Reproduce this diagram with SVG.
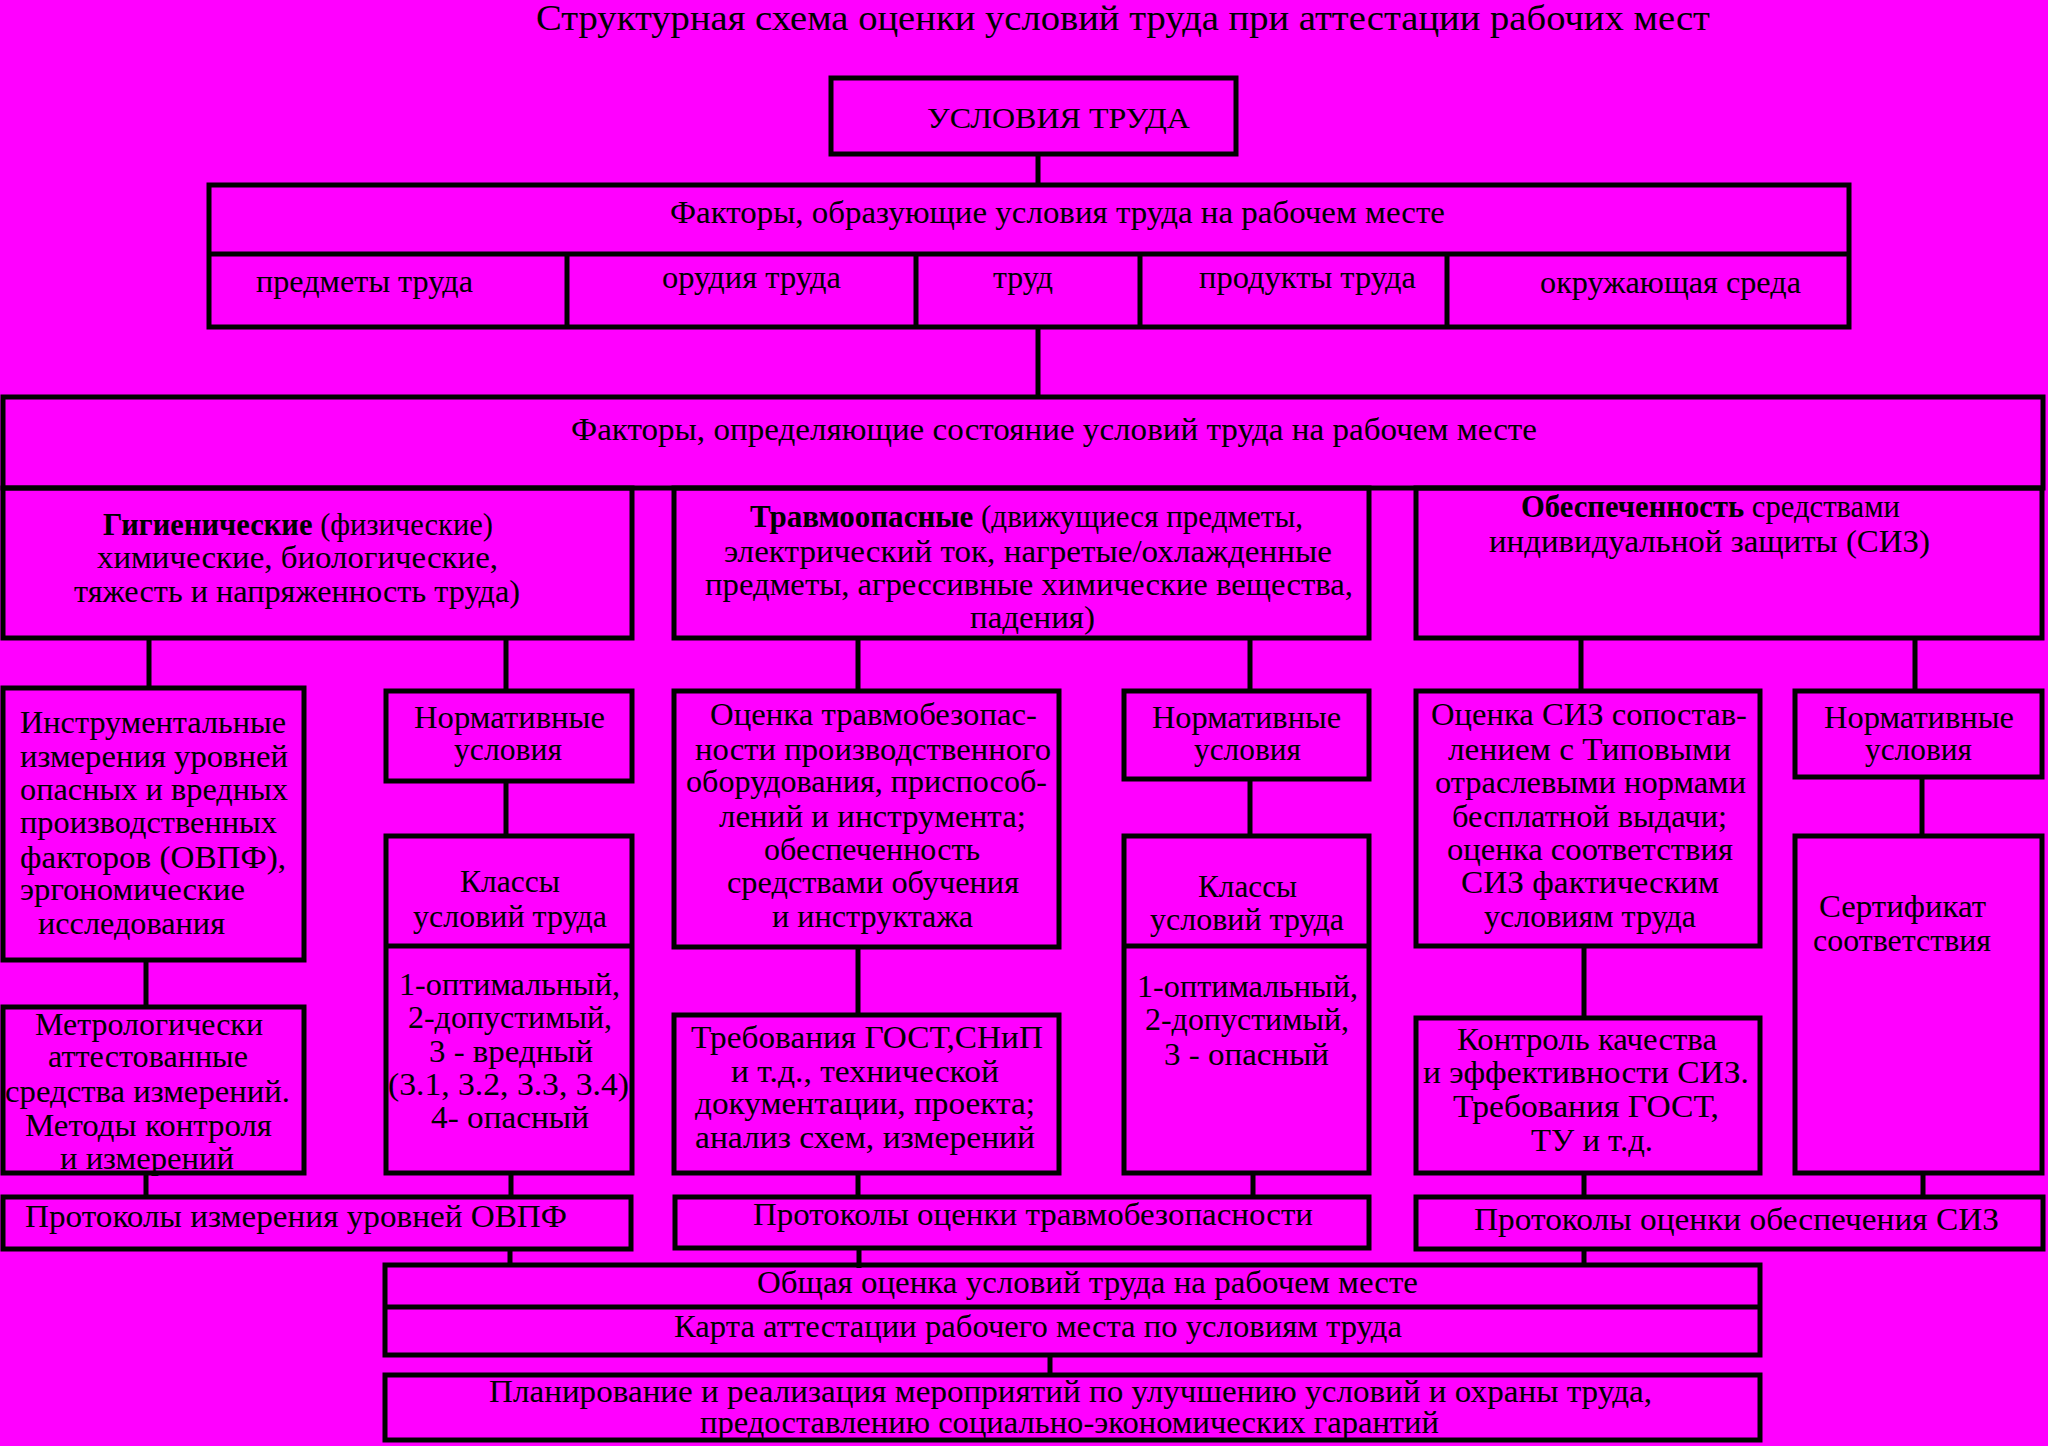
<svg xmlns="http://www.w3.org/2000/svg" width="2048" height="1446" viewBox="0 0 2048 1446">
<style>
.b{fill:none;stroke:#000;stroke-width:5}
.c{stroke:#000;stroke-width:5;fill:none}
text{font-family:"Liberation Serif","Times New Roman",serif;font-size:31px;fill:#000}
.bd{font-weight:bold}
</style>
<rect x="0" y="0" width="2048" height="1446" fill="#FF00FF"/>
<text id="title" x="536" y="30" style="font-size:36px" textLength="1174" lengthAdjust="spacingAndGlyphs">Структурная схема оценки условий труда при аттестации рабочих мест</text>

<g id="connectors">
<path class="c" d="M1038 154V185"/>
<path class="c" d="M1038 327V397"/>
<path class="c" d="M149 640V688M506 640V691"/>
<path class="c" d="M858 640V691M1250 640V691"/>
<path class="c" d="M1581 640V691M1915 640V691"/>
<path class="c" d="M146 960V1007"/>
<path class="c" d="M506 781V836"/>
<path class="c" d="M858 947V1015"/>
<path class="c" d="M1250 779V836"/>
<path class="c" d="M1584 946V1018"/>
<path class="c" d="M1922 777V836"/>
<path class="c" d="M146 1173V1197M511 1173V1197"/>
<path class="c" d="M858 1173V1197M1253 1173V1197"/>
<path class="c" d="M1584 1173V1197M1923 1173V1197"/>
<path class="c" d="M510 1249V1265M859 1248V1268M1584 1249V1265"/>
<path class="c" d="M1050 1355V1375"/>
</g>

<g id="n-usloviya">
<rect class="b" x="831" y="78" width="405" height="76"/>
<text x="927" y="128" style="font-size:30px" textLength="263" lengthAdjust="spacingAndGlyphs">УСЛОВИЯ ТРУДА</text>
</g>

<g id="n-factors-form">
<rect class="b" x="209" y="185" width="1640" height="142"/>
<path class="c" d="M209 254H1849M567 254V327M916 254V327M1140 254V327M1447 254V327"/>
<text x="670" y="223" textLength="775" lengthAdjust="spacingAndGlyphs">Факторы, образующие условия труда на рабочем месте</text>
<text x="256" y="292" textLength="217" lengthAdjust="spacingAndGlyphs">предметы труда</text>
<text x="662" y="288" textLength="179" lengthAdjust="spacingAndGlyphs">орудия труда</text>
<text x="993" y="288" textLength="60" lengthAdjust="spacingAndGlyphs">труд</text>
<text x="1199" y="288" textLength="217" lengthAdjust="spacingAndGlyphs">продукты труда</text>
<text x="1540" y="293" textLength="261" lengthAdjust="spacingAndGlyphs">окружающая среда</text>
</g>

<g id="n-factors-state">
<rect class="b" x="3" y="397" width="2040" height="91"/>
<text x="571" y="440" textLength="966" lengthAdjust="spacingAndGlyphs">Факторы, определяющие состояние условий труда на рабочем месте</text>
</g>

<g id="n-gig">
<rect class="b" x="3" y="488" width="629" height="150"/>
<text x="103" y="535" textLength="390" lengthAdjust="spacingAndGlyphs"><tspan class="bd">Гигиенические</tspan> (физические)</text>
<text x="97" y="568" textLength="401" lengthAdjust="spacingAndGlyphs">химические, биологические,</text>
<text x="74" y="602" textLength="446" lengthAdjust="spacingAndGlyphs">тяжесть и напряженность труда)</text>
</g>

<g id="n-trav">
<rect class="b" x="674" y="488" width="695" height="150"/>
<text x="750" y="527" textLength="553" lengthAdjust="spacingAndGlyphs"><tspan class="bd">Травмоопасные</tspan> (движущиеся предметы,</text>
<text x="724" y="562" textLength="608" lengthAdjust="spacingAndGlyphs">электрический ток, нагретые/охлажденные</text>
<text x="705" y="595" textLength="648" lengthAdjust="spacingAndGlyphs">предметы, агрессивные химические вещества,</text>
<text x="970" y="628" textLength="125" lengthAdjust="spacingAndGlyphs">падения)</text>
</g>

<g id="n-obesp">
<rect class="b" x="1416" y="488" width="626" height="150"/>
<text x="1521" y="517" textLength="379" lengthAdjust="spacingAndGlyphs"><tspan class="bd">Обеспеченность</tspan> средствами</text>
<text x="1489" y="552" textLength="441" lengthAdjust="spacingAndGlyphs">индивидуальной защиты (СИЗ)</text>
</g>

<g id="n-instr">
<rect class="b" x="3" y="688" width="301" height="272"/>
<text x="20" y="733" textLength="266" lengthAdjust="spacingAndGlyphs">Инструментальные</text>
<text x="20" y="767" textLength="268" lengthAdjust="spacingAndGlyphs">измерения уровней</text>
<text x="20" y="800" textLength="268" lengthAdjust="spacingAndGlyphs">опасных и вредных</text>
<text x="20" y="833" textLength="257" lengthAdjust="spacingAndGlyphs">производственных</text>
<text x="20" y="868" textLength="266" lengthAdjust="spacingAndGlyphs">факторов (ОВПФ),</text>
<text x="20" y="900" textLength="225" lengthAdjust="spacingAndGlyphs">эргономические</text>
<text x="38" y="934" textLength="187" lengthAdjust="spacingAndGlyphs">исследования</text>
</g>

<g id="n-metrol">
<rect class="b" x="3" y="1007" width="301" height="166"/>
<text x="35" y="1035" textLength="228" lengthAdjust="spacingAndGlyphs">Метрологически</text>
<text x="48" y="1067" textLength="200" lengthAdjust="spacingAndGlyphs">аттестованные</text>
<text x="5" y="1102" textLength="285" lengthAdjust="spacingAndGlyphs">средства измерений.</text>
<text x="25" y="1136" textLength="247" lengthAdjust="spacingAndGlyphs">Методы контроля</text>
<text x="60" y="1169" textLength="174" lengthAdjust="spacingAndGlyphs">и измерений</text>
</g>

<g id="n-norm1">
<rect class="b" x="386" y="691" width="246" height="90"/>
<text x="414" y="728" textLength="191" lengthAdjust="spacingAndGlyphs">Нормативные</text>
<text x="454" y="760" textLength="108" lengthAdjust="spacingAndGlyphs">условия</text>
</g>

<g id="n-class1">
<rect class="b" x="386" y="836" width="246" height="337"/>
<path class="c" d="M386 946H632"/>
<text x="460" y="892" textLength="100" lengthAdjust="spacingAndGlyphs">Классы</text>
<text x="413" y="927" textLength="194" lengthAdjust="spacingAndGlyphs">условий труда</text>
<text x="399" y="995" textLength="221" lengthAdjust="spacingAndGlyphs">1-оптимальный,</text>
<text x="408" y="1028" textLength="204" lengthAdjust="spacingAndGlyphs">2-допустимый,</text>
<text x="429" y="1062" textLength="164" lengthAdjust="spacingAndGlyphs">3 - вредный</text>
<text x="388" y="1095" textLength="241" lengthAdjust="spacingAndGlyphs">(3.1, 3.2, 3.3, 3.4)</text>
<text x="431" y="1128" textLength="158" lengthAdjust="spacingAndGlyphs">4- опасный</text>
</g>

<g id="n-travocenka">
<rect class="b" x="674" y="691" width="385" height="256"/>
<text x="710" y="725" textLength="327" lengthAdjust="spacingAndGlyphs">Оценка травмобезопас-</text>
<text x="695" y="760" textLength="356" lengthAdjust="spacingAndGlyphs">ности производственного</text>
<text x="686" y="792" textLength="361" lengthAdjust="spacingAndGlyphs">оборудования, приспособ-</text>
<text x="719" y="827" textLength="307" lengthAdjust="spacingAndGlyphs">лений и инструмента;</text>
<text x="764" y="860" textLength="216" lengthAdjust="spacingAndGlyphs">обеспеченность</text>
<text x="727" y="893" textLength="292" lengthAdjust="spacingAndGlyphs">средствами обучения</text>
<text x="772" y="927" textLength="201" lengthAdjust="spacingAndGlyphs">и инструктажа</text>
</g>

<g id="n-treb">
<rect class="b" x="674" y="1015" width="385" height="158"/>
<text x="691" y="1048" textLength="352" lengthAdjust="spacingAndGlyphs">Требования ГОСТ,СНиП</text>
<text x="731" y="1082" textLength="268" lengthAdjust="spacingAndGlyphs">и т.д., технической</text>
<text x="695" y="1114" textLength="340" lengthAdjust="spacingAndGlyphs">документации, проекта;</text>
<text x="695" y="1148" textLength="340" lengthAdjust="spacingAndGlyphs">анализ схем, измерений</text>
</g>

<g id="n-norm2">
<rect class="b" x="1124" y="691" width="245" height="88"/>
<text x="1152" y="728" textLength="189" lengthAdjust="spacingAndGlyphs">Нормативные</text>
<text x="1194" y="760" textLength="107" lengthAdjust="spacingAndGlyphs">условия</text>
</g>

<g id="n-class2">
<rect class="b" x="1124" y="836" width="245" height="337"/>
<path class="c" d="M1124 946H1369"/>
<text x="1198" y="897" textLength="99" lengthAdjust="spacingAndGlyphs">Классы</text>
<text x="1150" y="930" textLength="194" lengthAdjust="spacingAndGlyphs">условий труда</text>
<text x="1137" y="997" textLength="221" lengthAdjust="spacingAndGlyphs">1-оптимальный,</text>
<text x="1145" y="1030" textLength="204" lengthAdjust="spacingAndGlyphs">2-допустимый,</text>
<text x="1164" y="1065" textLength="165" lengthAdjust="spacingAndGlyphs">3 - опасный</text>
</g>

<g id="n-sizocenka">
<rect class="b" x="1416" y="691" width="344" height="255"/>
<text x="1431" y="725" textLength="316" lengthAdjust="spacingAndGlyphs">Оценка СИЗ сопостав-</text>
<text x="1448" y="760" textLength="283" lengthAdjust="spacingAndGlyphs">лением с Типовыми</text>
<text x="1435" y="793" textLength="311" lengthAdjust="spacingAndGlyphs">отраслевыми нормами</text>
<text x="1452" y="827" textLength="275" lengthAdjust="spacingAndGlyphs">бесплатной выдачи;</text>
<text x="1447" y="860" textLength="286" lengthAdjust="spacingAndGlyphs">оценка соответствия</text>
<text x="1461" y="893" textLength="258" lengthAdjust="spacingAndGlyphs">СИЗ фактическим</text>
<text x="1484" y="927" textLength="212" lengthAdjust="spacingAndGlyphs">условиям труда</text>
</g>

<g id="n-kontrol">
<rect class="b" x="1416" y="1018" width="344" height="155"/>
<text x="1457" y="1050" textLength="260" lengthAdjust="spacingAndGlyphs">Контроль качества</text>
<text x="1423" y="1083" textLength="326" lengthAdjust="spacingAndGlyphs">и эффективности СИЗ.</text>
<text x="1453" y="1117" textLength="266" lengthAdjust="spacingAndGlyphs">Требования ГОСТ,</text>
<text x="1531" y="1151" textLength="122" lengthAdjust="spacingAndGlyphs">ТУ и т.д.</text>
</g>

<g id="n-norm3">
<rect class="b" x="1795" y="691" width="247" height="86"/>
<text x="1824" y="728" textLength="190" lengthAdjust="spacingAndGlyphs">Нормативные</text>
<text x="1865" y="760" textLength="107" lengthAdjust="spacingAndGlyphs">условия</text>
</g>

<g id="n-sert">
<rect class="b" x="1795" y="836" width="247" height="337"/>
<text x="1819" y="917" textLength="167" lengthAdjust="spacingAndGlyphs">Сертификат</text>
<text x="1813" y="951" textLength="178" lengthAdjust="spacingAndGlyphs">соответствия</text>
</g>

<g id="n-prot1">
<rect class="b" x="3" y="1197" width="628" height="52"/>
<text x="25" y="1227" textLength="542" lengthAdjust="spacingAndGlyphs">Протоколы измерения уровней ОВПФ</text>
</g>

<g id="n-prot2">
<rect class="b" x="675" y="1197" width="694" height="51"/>
<text x="753" y="1225" textLength="560" lengthAdjust="spacingAndGlyphs">Протоколы оценки травмобезопасности</text>
</g>

<g id="n-prot3">
<rect class="b" x="1416" y="1197" width="627" height="52"/>
<text x="1474" y="1230" textLength="525" lengthAdjust="spacingAndGlyphs">Протоколы оценки обеспечения СИЗ</text>
</g>

<g id="n-obshaya">
<rect class="b" x="385" y="1265" width="1375" height="90"/>
<path class="c" d="M385 1307H1760"/>
<text x="757" y="1293" textLength="661" lengthAdjust="spacingAndGlyphs">Общая оценка условий труда на рабочем месте</text>
<text x="674" y="1337" textLength="728" lengthAdjust="spacingAndGlyphs">Карта аттестации рабочего места по условиям труда</text>
</g>

<g id="n-plan">
<rect class="b" x="385" y="1375" width="1375" height="65"/>
<text x="489" y="1402" textLength="1163" lengthAdjust="spacingAndGlyphs">Планирование и реализация мероприятий по улучшению условий и охраны труда,</text>
<text x="700" y="1433" textLength="739" lengthAdjust="spacingAndGlyphs">предоставлению социально-экономических гарантий</text>
</g>
</svg>
